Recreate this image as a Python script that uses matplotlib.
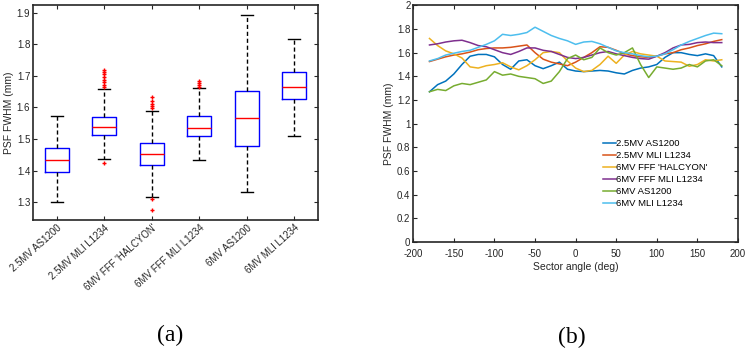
import numpy as np
import matplotlib.pyplot as plt

plt.rcParams['font.family'] = ['Liberation Sans', 'DejaVu Sans']
plt.rcParams['axes.unicode_minus'] = False

# ---- panel (a) : box plot stats
labels_a = ["2.5MV AS1200", "2.5MV MLI L1234", "6MV FFF 'HALCYON'",
            "6MV FFF MLI L1234", "6MV AS1200", "6MV MLI L1234"]
whislo = [1.301, 1.436, 1.318, 1.432, 1.333, 1.509]
q1 = [1.397, 1.513, 1.419, 1.511, 1.477, 1.627]
med = [1.434, 1.539, 1.453, 1.536, 1.566, 1.666]
q3 = [1.473, 1.570, 1.486, 1.572, 1.651, 1.712]
whishi = [1.573, 1.659, 1.588, 1.661, 1.891, 1.817]
fliers = [[],
          [1.665, 1.672, 1.680, 1.688, 1.697, 1.705, 1.712, 1.717, 1.423],
          [1.597, 1.604, 1.611, 1.619, 1.634, 1.311, 1.274],
          [1.664, 1.670, 1.676, 1.682],
          [],
          []]

# ---- panel (b) : PSF FWHM vs sector angle
angles = [-180, -170, -160, -150, -140, -130, -120, -110, -100, -90,
          -80, -70, -60, -50, -40, -30, -20, -10, 0, 10,
          20, 30, 40, 50, 60, 70, 80, 90, 100, 110,
          120, 130, 140, 150, 160, 170, 180]
mv25_as1200 = [1.27, 1.33, 1.36, 1.42, 1.50, 1.57, 1.585, 1.585, 1.565, 1.50,
               1.46, 1.53, 1.54, 1.49, 1.465, 1.49, 1.52, 1.46, 1.445, 1.44,
               1.445, 1.45, 1.445, 1.43, 1.42, 1.45, 1.47, 1.48, 1.50, 1.56,
               1.60, 1.60, 1.585, 1.575, 1.59, 1.575, 1.48]
mv25_mli = [1.525, 1.545, 1.565, 1.58, 1.59, 1.605, 1.625, 1.635, 1.64, 1.64,
            1.645, 1.655, 1.665, 1.60, 1.545, 1.52, 1.505, 1.49, 1.52, 1.56,
            1.60, 1.65, 1.645, 1.62, 1.59, 1.575, 1.565, 1.56, 1.57, 1.59,
            1.60, 1.625, 1.64, 1.66, 1.675, 1.695, 1.71]
mv6_halcyon = [1.72, 1.66, 1.615, 1.59, 1.555, 1.48, 1.47, 1.49, 1.50, 1.515,
               1.48, 1.455, 1.49, 1.54, 1.60, 1.61, 1.60, 1.53, 1.47, 1.44,
               1.45, 1.50, 1.57, 1.51, 1.58, 1.61, 1.59, 1.58, 1.57, 1.53,
               1.525, 1.52, 1.485, 1.50, 1.54, 1.53, 1.54]
mv6_fff_mli = [1.665, 1.675, 1.69, 1.70, 1.705, 1.685, 1.66, 1.65, 1.625, 1.60,
               1.585, 1.61, 1.64, 1.64, 1.62, 1.61, 1.585, 1.56, 1.55, 1.56,
               1.58, 1.60, 1.61, 1.59, 1.575, 1.56, 1.55, 1.545, 1.57, 1.60,
               1.64, 1.665, 1.67, 1.685, 1.69, 1.685, 1.685]
mv6_as1200 = [1.27, 1.29, 1.28, 1.32, 1.34, 1.33, 1.35, 1.37, 1.44, 1.41,
              1.42, 1.40, 1.39, 1.38, 1.34, 1.36, 1.44, 1.55, 1.58, 1.54,
              1.56, 1.64, 1.60, 1.58, 1.60, 1.64, 1.50, 1.39, 1.48, 1.47,
              1.46, 1.47, 1.50, 1.48, 1.53, 1.54, 1.49]
mv6_mli = [1.53, 1.55, 1.58, 1.595, 1.61, 1.62, 1.645, 1.67, 1.70, 1.755,
           1.745, 1.755, 1.77, 1.815, 1.78, 1.745, 1.72, 1.70, 1.67, 1.69,
           1.695, 1.675, 1.645, 1.615, 1.60, 1.59, 1.575, 1.565, 1.57, 1.59,
           1.625, 1.665, 1.695, 1.72, 1.745, 1.765, 1.76]
series_b = [("2.5MV AS1200", mv25_as1200), ("2.5MV MLI L1234", mv25_mli),
            ("6MV FFF 'HALCYON'", mv6_halcyon), ("6MV FFF MLI L1234", mv6_fff_mli),
            ("6MV AS1200", mv6_as1200), ("6MV MLI L1234", mv6_mli)]
colors_b = ['#0072BD', '#D95319', '#EDB120', '#7E2F8E', '#77AC30', '#4DBEEE']

axcol = '#262626'

fig = plt.figure(figsize=(7.5, 3.53), dpi=100)

# ---------------- (a)
ax1 = fig.add_axes([0.044, 0.377, 0.380, 0.609])
stats = []
for i in range(len(labels_a)):
    stats.append(dict(med=med[i], q1=q1[i], q3=q3[i], whislo=whislo[i],
                      whishi=whishi[i], fliers=fliers[i], label=labels_a[i]))
ax1.bxp(stats, widths=0.5, showfliers=True,
        boxprops=dict(color='blue', linewidth=1.0),
        medianprops=dict(color='red', linewidth=1.0),
        whiskerprops=dict(color='black', linewidth=1.0, linestyle=(0, (3, 2))),
        capprops=dict(color='black', linewidth=1.0),
        flierprops=dict(marker='+', markeredgecolor='red', markersize=2.5,
                        markeredgewidth=1.0))
ax1.set_xlim(0.5, 6.5)
ax1.set_ylim(1.244, 1.924)
ax1.set_yticks([1.3, 1.4, 1.5, 1.6, 1.7, 1.8, 1.9])
ax1.set_xticks(range(1, 7))
ax1.set_xticklabels(labels_a, rotation=42, ha='right', va='top',
                    rotation_mode='anchor')
ax1.set_ylabel('PSF FWHM (mm)', fontsize=7.5, color=axcol, labelpad=2)

# ---------------- (b)
ax2 = fig.add_axes([0.551, 0.314, 0.433, 0.671])
for (name, vals), c in zip(series_b, colors_b):
    ax2.plot(angles, vals, color=c, linewidth=1.1, label=name)
ax2.set_xlim(-200, 200)
ax2.set_ylim(0, 2)
ax2.set_xticks(np.arange(-200, 201, 50))
ax2.set_yticks([0, 0.2, 0.4, 0.6, 0.8, 1, 1.2, 1.4, 1.6, 1.8, 2])
ax2.set_yticklabels(['0', '0.2', '0.4', '0.6', '0.8', '1', '1.2', '1.4',
                     '1.6', '1.8', '2'])
ax2.set_xlabel('Sector angle (deg)', fontsize=7.5, color=axcol, labelpad=2)
ax2.set_ylabel('PSF FWHM (mm)', fontsize=7.5, color=axcol, labelpad=2)
ax2.legend(loc='lower left', bbox_to_anchor=(0.565, 0.115), frameon=False,
           fontsize=6.8, handlelength=1.3, handletextpad=0.05,
           labelspacing=0.32, borderpad=0.2)

for ax in (ax1, ax2):
    ax.tick_params(direction='in', length=3, width=0.8, colors=axcol,
                   labelsize=7, top=True, right=True, pad=2)
    for s in ax.spines.values():
        s.set_color(axcol)
        s.set_linewidth(1.2)
ax2.tick_params(axis='x', pad=5)

fig.text(0.227, 0.05, '(a)', family=['Liberation Serif', 'DejaVu Serif'],
         fontsize=17, ha='center', va='center')
fig.text(0.762, 0.045, '(b)', family=['Liberation Serif', 'DejaVu Serif'],
         fontsize=17, ha='center', va='center')

fig.savefig('out.png', dpi=100)
